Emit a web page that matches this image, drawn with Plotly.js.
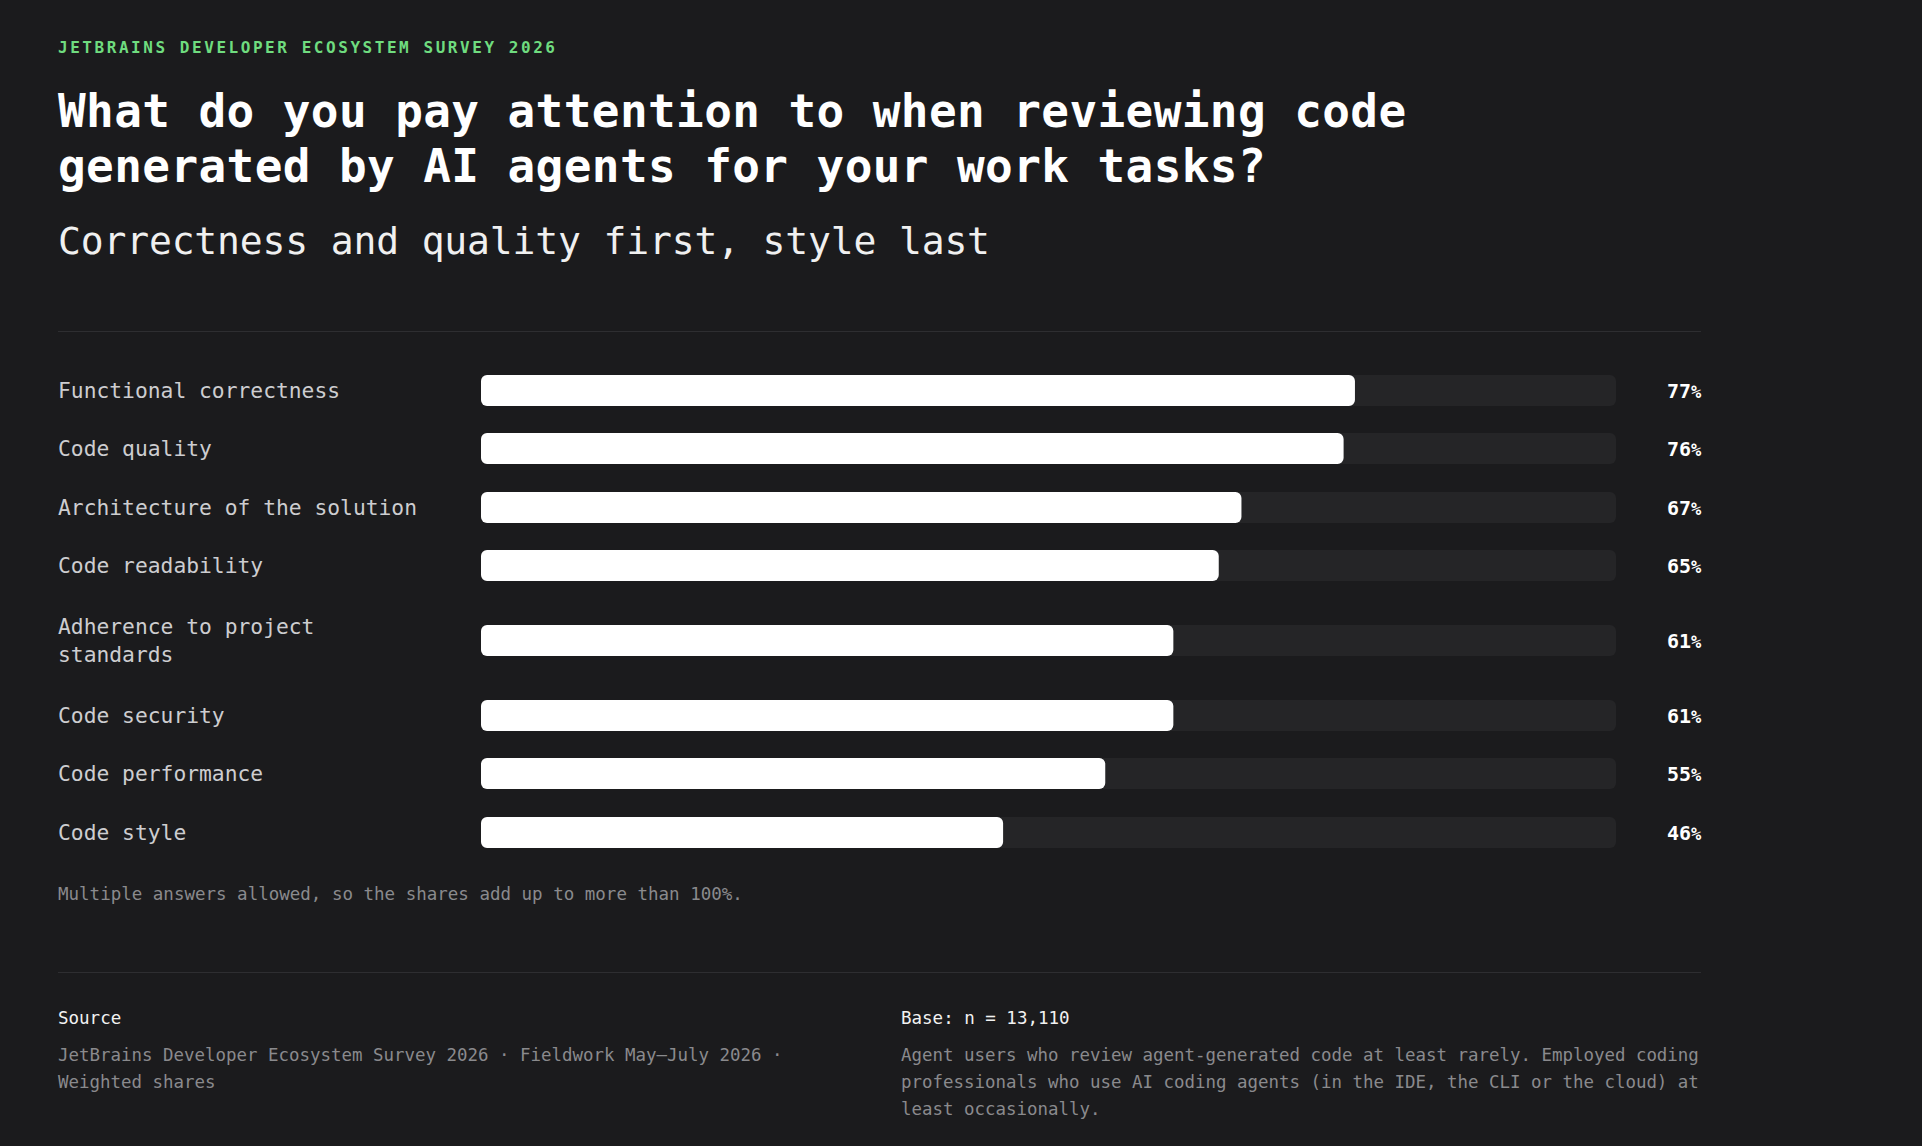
<!DOCTYPE html>
<html>
<head>
<meta charset="utf-8">
<script src="https://cdn.plot.ly/plotly-3.0.1.min.js"></script>
<style>
  html, body { margin: 0; padding: 0; background: #1b1b1d; }
  body { width: 1922px; height: 1146px; position: relative; overflow: hidden;
         font-family: "DejaVu Sans Mono", monospace; }
  #chart { position: absolute; left: 0; top: 0; width: 1922px; height: 1146px; }
  .txt { position: absolute; white-space: nowrap; margin: 0; }
  .eyebrow { left: 58px; top: 38px; font-size: 16px; line-height: 20px; font-weight: bold;
             letter-spacing: 2.55px; color: #6fdc7f; }
  .title { left: 58px; top: 83.5px; font-size: 46px; line-height: 55px; font-weight: bold;
           letter-spacing: 0.4px; color: #ffffff; }
  .subtitle { left: 58px; top: 218px; font-size: 38px; line-height: 46px; letter-spacing: -0.15px;
              color: #f0f0f0; }
  .rule { position: absolute; left: 58px; width: 1643px; height: 1px; background: #2e2e31; }
  .note { left: 58px; top: 881px; font-size: 17.5px; line-height: 27px; color: #8a8a8d; }
  .fhead { top: 1005px; font-size: 17.5px; line-height: 27px; color: #f2f2f2; }
  .fbody { top: 1041.5px; font-size: 17.45px; line-height: 27px; color: #8a8a8d; }
</style>
</head>
<body>
<div id="chart"></div>

<div class="txt eyebrow">JETBRAINS DEVELOPER ECOSYSTEM SURVEY 2026</div>
<div class="txt title">What do you pay attention to when reviewing code<br>generated by AI agents for your work tasks?</div>
<div class="txt subtitle">Correctness and quality first, style last</div>
<div class="rule" style="top:331px"></div>

<div class="txt note">Multiple answers allowed, so the shares add up to more than 100%.</div>
<div class="rule" style="top:972px"></div>
<div class="txt fhead" style="left:58px">Source</div>
<div class="txt fbody" style="left:58px">JetBrains Developer Ecosystem Survey 2026 · Fieldwork May–July 2026 ·<br>Weighted shares</div>
<div class="txt fhead" style="left:901px">Base: n = 13,110</div>
<div class="txt fbody" style="left:901px">Agent users who review agent-generated code at least rarely. Employed coding<br>professionals who use AI coding agents (in the IDE, the CLI or the cloud) at<br>least occasionally.</div>

<script>
// answers and their weighted shares (%)
const categories = [
    'Functional correctness',
    'Code quality',
    'Architecture of the solution',
    'Code readability',
    'Adherence to project standards',
    'Code security',
    'Code performance',
    'Code style'
];
const shares = [77, 76, 67, 65, 61, 61, 55, 46];

// page geometry in px
const W = 1922, H = 1146;
const plotLeft = 481, plotRight = 1616, plotTop = 361;
const labelLeft = 55.5, valueRight = 1703.5;   // annotations carry ~2px of padding
const lineH = 32.5, rowPad = 26, barH = 31;
const maxChars = 28;

function wrapLabel(s) {
    var lines = [], cur = '';
    s.split(' ').forEach(w => {
        if (cur && (cur + ' ' + w).length > maxChars) { lines.push(cur); cur = w; }
        else cur = cur ? cur + ' ' + w : w;
    });
    lines.push(cur);
    return lines;
}

// one y unit = one pixel; centres sit on half pixels so the 31px bars have crisp edges
var wrapped = categories.map(wrapLabel);
var centers = [], pos = 0;
wrapped.forEach(lines => {
    var h = lines.length * lineH + rowPad;
    centers.push(Math.floor(pos + h / 2) + 0.5);
    pos += h;
});
var total = Math.round(pos);
var plotW = plotRight - plotLeft;

// plotly only rounds the far end of a bar, so each bar is drawn as two
// overlapping halves: one grows left to 0, the other right to the value
function roundedBar(values, color) {
    var common = {
        y: centers, type: 'bar', orientation: 'h', width: barH,
        marker: { color: color, cornerradius: 6, line: { width: 0 } }, hoverinfo: 'skip'
    };
    var leftHalf = Object.assign({}, common, {
        base: values.map(v => v * 0.6),
        x: values.map(v => -v * 0.6)
    });
    var rightHalf = Object.assign({}, common, {
        base: values.map(v => v * 0.4),
        x: values.map(v => v * 0.6)
    });
    return [leftHalf, rightHalf];
}

var track = roundedBar(shares.map(() => 100), '#252527');
var bars = roundedBar(shares, '#ffffff');

var annotations = [];
wrapped.forEach((lines, i) => {
    annotations.push({
        xref: 'paper', yref: 'y',
        x: (labelLeft - plotLeft) / plotW, y: centers[i],
        xanchor: 'left', yanchor: 'middle', align: 'left',
        text: lines.join('<br>'),
        showarrow: false,
        font: { family: 'DejaVu Sans Mono', size: 21.3, color: '#cdcdd0' }
    });
    annotations.push({
        xref: 'paper', yref: 'y',
        x: (valueRight - plotLeft) / plotW, y: centers[i],
        xanchor: 'right', yanchor: 'middle', align: 'right',
        text: shares[i] + '<span style="font-size:17px">%</span>',
        showarrow: false,
        font: { family: 'DejaVu Sans Mono', size: 20, color: '#ffffff', weight: 700 }
    });
});

var layout = {
    width: W,
    height: H,
    margin: { l: plotLeft, r: W - plotRight, t: plotTop, b: H - plotTop - total, pad: 0 },
    paper_bgcolor: '#1b1b1d',
    plot_bgcolor: '#1b1b1d',
    barmode: 'overlay',
    showlegend: false,
    hovermode: false,
    xaxis: { range: [0, 100], visible: false, fixedrange: true },
    yaxis: { range: [total, 0], visible: false, fixedrange: true },
    annotations: annotations
};

Plotly.newPlot('chart', track.concat(bars), layout, { staticPlot: true, displayModeBar: false });
</script>
</body>
</html>
